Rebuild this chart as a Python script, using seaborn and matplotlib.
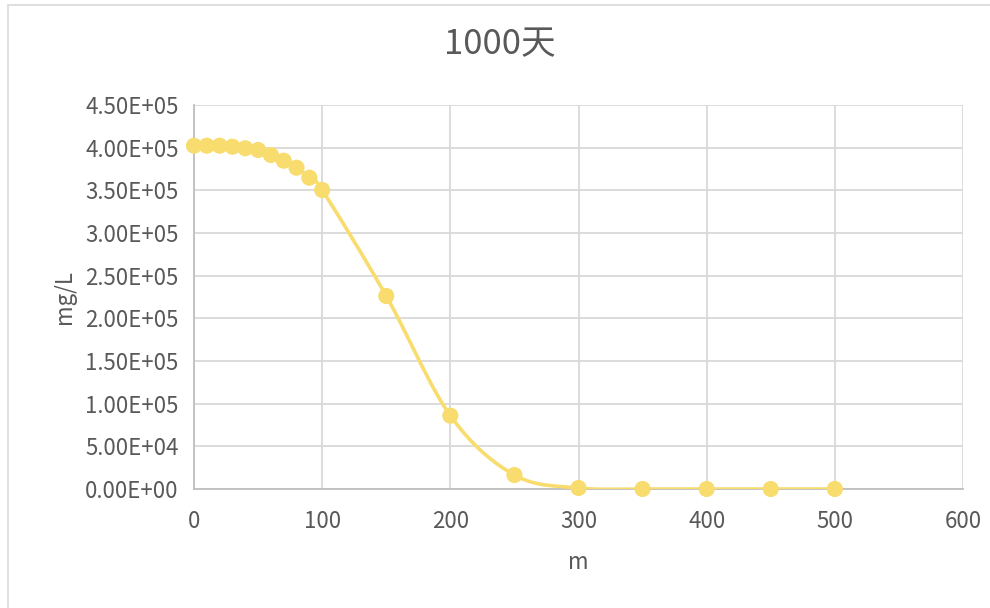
import numpy as np
import pandas as pd
import matplotlib
matplotlib.use("Agg")
import matplotlib.pyplot as plt
import seaborn as sns
from matplotlib.patches import Rectangle

# ---- data ----
distance_m = [0, 10, 20, 30, 40, 50, 60, 70, 80, 90, 100,
              150, 200, 250, 300, 350, 400, 450, 500]
conc_mg_L = [402300, 402300, 402300, 401100, 399300, 397300, 391400,
             384700, 376500, 364800, 350400,
             226200, 86000, 16400, 1200, 30, 1, 0, 0]
x_ticks = [0, 100, 200, 300, 400, 500, 600]
y_ticks = [0, 50000, 100000, 150000, 200000, 250000, 300000,
           350000, 400000, 450000]
title_text = "1000天"
x_label = "m"
y_label = "mg/L"

# ---- style ----
sns.set_theme(style="white")
plt.rcParams['font.family'] = ['Noto Sans CJK SC', 'DejaVu Sans']
plt.rcParams['font.weight'] = 'light'
color = "#F8DC6E"
text_color = "#595959"
grid_color = "#D9D9D9"

fig = plt.figure(figsize=(9.9, 6.08), dpi=100)
fig.patch.set_facecolor("white")
# outer chart border
fig.add_artist(Rectangle((8 / 990, -0.01), 1.0, 1 - 5 / 608 + 0.01,
                         transform=fig.transFigure, fill=False,
                         edgecolor=grid_color, linewidth=1.2))

ax = fig.add_axes([194 / 990, 1 - 489 / 608, (963 - 194) / 990, (489 - 105) / 608])

df = pd.DataFrame({"m": distance_m, "mg/L": conc_mg_L})

# smoothed line (Catmull-Rom / Bezier like Excel) computed in scaled space
xmax, ymax = 600.0, 450000.0
sx = 769.0 / xmax
sy = 384.0 / ymax
P = np.column_stack([np.array(distance_m, float) * sx, np.array(conc_mg_L, float) * sy])
n = len(P)
xs, ys = [], []
t = np.linspace(0, 1, 40)
for i in range(n - 1):
    p0 = P[i - 1] if i > 0 else P[i]
    p1 = P[i]
    p2 = P[i + 1]
    p3 = P[i + 2] if i + 2 < n else P[i + 1]
    c1 = p1 + (p2 - p0) / 6.0
    c2 = p2 - (p3 - p1) / 6.0
    b = (((1 - t) ** 3)[:, None] * p1 + (3 * (1 - t) ** 2 * t)[:, None] * c1
         + (3 * (1 - t) * t ** 2)[:, None] * c2 + (t ** 3)[:, None] * p2)
    xs.extend(b[:, 0] / sx)
    ys.extend(b[:, 1] / sy)
smooth = pd.DataFrame({"x": xs, "y": ys})
sns.lineplot(data=smooth, x="x", y="y", ax=ax, color=color, linewidth=2.6,
             sort=False, estimator=None, zorder=3)
sns.scatterplot(data=df, x="m", y="mg/L", ax=ax, color=color, s=135,
                edgecolor="none", zorder=4, clip_on=False)

ax.set_xlim(0, 600)
ax.set_ylim(0, 450000)
ax.set_xticks(x_ticks)
ax.set_yticks(y_ticks)
ax.set_xticklabels([str(v) for v in x_ticks])
ax.set_yticklabels([f"{v:.2E}" for v in y_ticks])
ax.grid(True, color=grid_color, linewidth=1.3)
ax.set_axisbelow(True)
for s in ["top", "right"]:
    ax.spines[s].set_visible(False)
for s in ["left", "bottom"]:
    ax.spines[s].set_color("#BFBFBF")
    ax.spines[s].set_linewidth(1.3)
    ax.spines[s].set_zorder(2)
ax.tick_params(axis="both", length=0, labelsize=16, labelcolor=text_color)
ax.tick_params(axis="x", pad=15)
ax.tick_params(axis="y", pad=11)

ax.set_xlabel(x_label, fontsize=16, color=text_color, labelpad=13)
ax.set_ylabel(y_label, fontsize=16, color=text_color, labelpad=7)
fig.text(500 / 990, 1 - 45 / 608, title_text, fontsize=25, color=text_color,
         ha="center", va="center")

fig.savefig("out.png", dpi=100)
